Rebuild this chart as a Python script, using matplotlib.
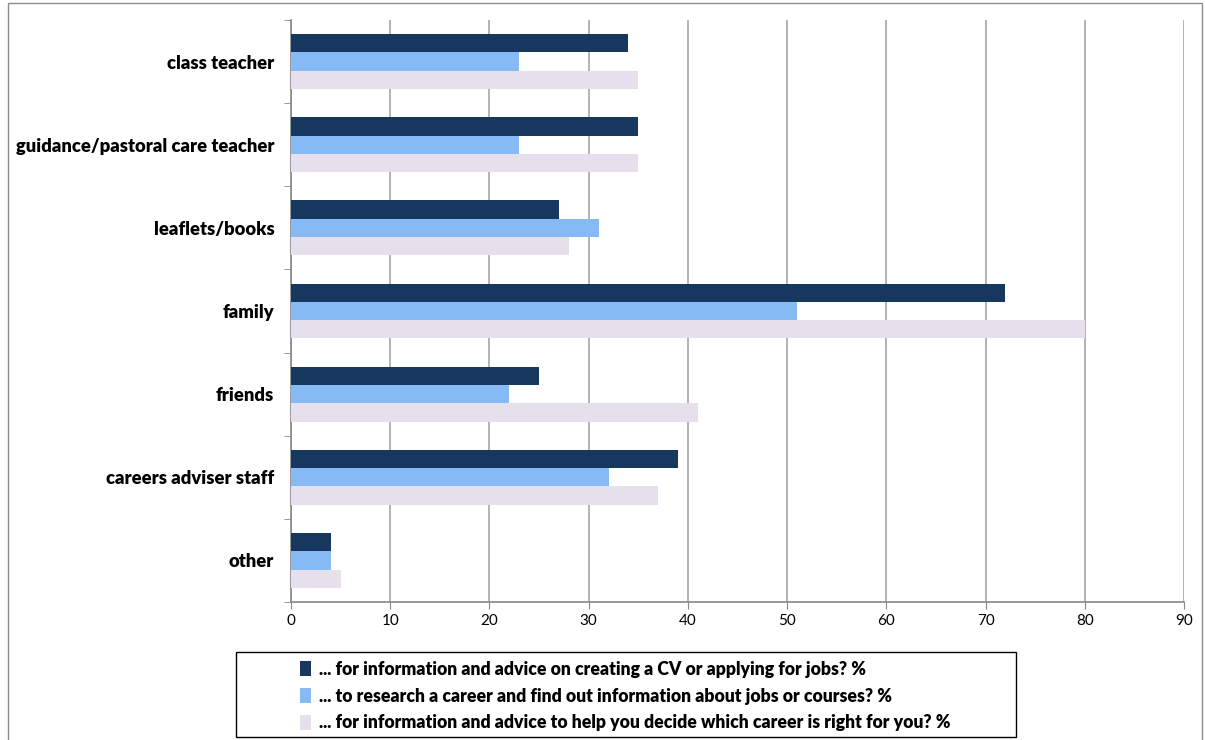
import numpy as np
import matplotlib
matplotlib.use('Agg')
import matplotlib.pyplot as plt
from matplotlib.patches import Rectangle

categories = ['class teacher', 'guidance/pastoral care teacher', 'leaflets/books',
              'family', 'friends', 'careers adviser staff', 'other']
cv_jobs = [34, 35, 27, 72, 25, 39, 4]
research = [23, 23, 31, 51, 22, 32, 4]
decide = [35, 35, 28, 80, 41, 37, 5]
series_labels = ['... for information and advice on creating a CV or applying for jobs? %',
                 '... to research a career and find out information about jobs or courses? %',
                 '... for information and advice to help you decide which career is right for you? %']
colors = ['#17375E', '#85BAF5', '#E5E0EC']

plt.rcParams['font.family'] = ['Lato', 'DejaVu Sans']

fig = plt.figure(figsize=(12.05, 7.4), dpi=100)
ax = fig.add_axes([0.2415, 0.1865, 0.7411, 0.7865])

n = len(categories)
y = np.arange(n)
h = 0.22
bars = []
for i, (vals, col, lab) in enumerate(zip([cv_jobs, research, decide], colors, series_labels)):
    b = ax.barh(y + (i - 1) * h, vals, height=h, color=col, label=lab, zorder=3)
    bars.append(b)

ax.set_ylim(n - 0.5, -0.5)
ax.set_xlim(0, 90)
ax.set_xticks(np.arange(0, 91, 10))
ax.set_yticks(y)
ax.set_yticklabels(categories, fontsize=13.2, fontweight='heavy')
ax.set_yticks(np.arange(-0.5, n, 1), minor=True)
ax.tick_params(axis='y', which='major', length=0, pad=12)
ax.tick_params(axis='y', which='minor', length=5, color='#888888')
ax.tick_params(axis='x', length=5, color='#888888', labelsize=11, pad=4)
ax.xaxis.grid(True, color='#A6A6A6', linewidth=1.2, zorder=0)
for s in ['top', 'right']:
    ax.spines[s].set_visible(False)
for s in ['left', 'bottom']:
    ax.spines[s].set_color('#888888')
    ax.spines[s].set_linewidth(1.2)

# legend box underneath the plot
fig.patches.append(Rectangle((236 / 1205, 3 / 740), 780 / 1205, 85 / 740,
                             transform=fig.transFigure, fill=False,
                             edgecolor='black', linewidth=1.0))
leg = fig.legend(handles=bars, labels=series_labels, loc='upper left',
                 bbox_to_anchor=(284 / 1205, 1 - 645 / 740), frameon=False,
                 handlelength=0.65, handleheight=0.9, handletextpad=0.45,
                 labelspacing=0.55, prop={'weight': 'heavy', 'size': 12.7})

# outer chart border
fig.patches.append(Rectangle((8 / 1205, -0.01), 1194 / 1205, 1 - 3 / 740 + 0.01,
                             transform=fig.transFigure, fill=False,
                             edgecolor='#8C8C8C', linewidth=1.0))

fig.savefig('out.png', dpi=100)
